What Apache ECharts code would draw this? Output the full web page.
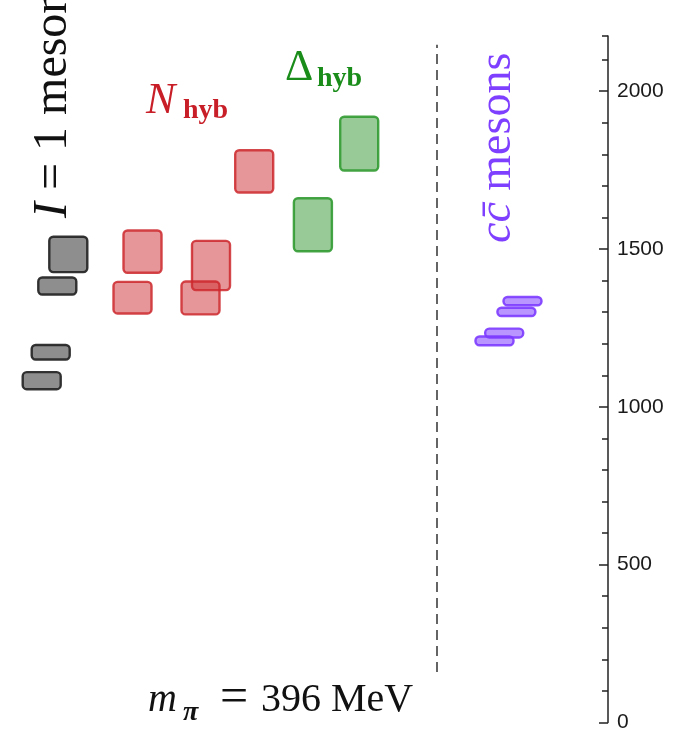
<!DOCTYPE html>
<html><head><meta charset="utf-8">
<script src="https://cdn.jsdelivr.net/npm/echarts@6/dist/echarts.min.js"></script>
<style>html,body{margin:0;padding:0;background:#fff}#c{width:683px;height:735px}</style>
</head><body><div id="c"></div>
<script>
// I = 1 mesons (gray boxes): horizontal column, mass (MeV), half-height uncertainty (MeV)
const isovectorPos  = [6.83, 5.73, 5.07, 4.17];
const isovectorMass = [1483, 1383, 1173, 1083];
const isovectorErr  = [56, 27, 23, 27];
// N_hyb (red boxes)
const nucleonPos  = [14.25, 13.25, 21.1, 20.05, 25.42];
const nucleonMass = [1492, 1346, 1448, 1345, 1746];
const nucleonErr  = [67, 50, 78, 52, 67];
// Delta_hyb (green boxes)
const deltaPos  = [35.92, 31.29];
const deltaMass = [1834, 1577];
const deltaErr  = [85, 84];
// c cbar mesons (purple boxes)
const charmPos  = [52.25, 51.64, 50.42, 49.45];
const charmMass = [1335, 1301, 1234, 1209];
const charmErr  = [13, 13, 14, 14];
// vertical dashed separator
const separatorPos = 43.7;
const separatorRange = [160, 2147];
// y-axis ticks and labels
const yMajorTicks = [0, 500, 1000, 1500, 2000];
const yMinorTicks = [0,100,200,300,400,500,600,700,800,900,1000,1100,1200,1300,1400,1500,1600,1700,1800,1900,2000,2100,2175];
const yMax = 2175;

const BOX_W = 3.8;
function boxSeries(name, pos, mass, err, fill, stroke) {
  return {
    name: name,
    type: 'custom',
    data: pos.map((p, i) => [p, mass[i] - err[i], mass[i] + err[i]]),
    encode: { x: 0, y: [1, 2] },
    renderItem: function (params, api) {
      const lo = api.coord([api.value(0), api.value(1)]);
      const hi = api.coord([api.value(0), api.value(2)]);
      const w = api.size([BOX_W, 0])[0];
      return {
        type: 'rect',
        shape: { x: lo[0] - w / 2, y: hi[1], width: w, height: lo[1] - hi[1], r: 4 },
        style: { fill: fill, stroke: stroke, lineWidth: 2.4 }
      };
    },
    silent: true
  };
}

const serif = "'Liberation Serif', 'DejaVu Serif', serif";
function txt(x, y, text, size, color, opts) {
  opts = opts || {};
  return {
    type: 'text', x: x, y: y, rotation: opts.rotation || 0, silent: true,
    style: {
      text: text, fill: color, fontSize: size, fontFamily: serif,
      fontStyle: opts.italic ? 'italic' : 'normal', fontWeight: opts.bold ? 'bold' : 'normal',
      align: 'left', textAlign: 'left', verticalAlign: 'middle', textVerticalAlign: 'middle',
      rich: opts.rich
    }
  };
}

const GRID_W = 608;
const chart = echarts.init(document.getElementById('c'), null, { renderer: 'canvas' });
chart.setOption({
  animation: false,
  backgroundColor: '#fff',
  grid: { left: 0, right: 683 - GRID_W, top: 36, bottom: 12.5 },
  xAxis: { type: 'value', min: 0, max: 60.8, show: false },
  yAxis: [
    {
      type: 'value', position: 'left', offset: -GRID_W, min: 0, max: yMax,
      axisLine: { show: true, lineStyle: { color: '#222', width: 1.5 } },
      axisTick: { show: true, inside: false, length: 6, customValues: yMinorTicks, lineStyle: { color: '#222', width: 1.5 } },
      axisLabel: { show: false },
      splitLine: { show: false }
    },
    {
      type: 'value', position: 'right', min: 0, max: yMax,
      axisLine: { show: false },
      axisTick: { show: true, inside: true, length: 9, customValues: yMajorTicks, lineStyle: { color: '#222', width: 1.5 } },
      axisLabel: { show: true, customValues: yMajorTicks, margin: 9, fontSize: 21, color: '#1a1a1a',
        fontFamily: "'Liberation Sans', Arial, sans-serif", formatter: v => String(v) },
      splitLine: { show: false }
    }
  ],
  series: [
    {
      type: 'line', symbol: 'none', silent: true,
      data: [[separatorPos, separatorRange[0]], [separatorPos, separatorRange[1]]],
      lineStyle: { color: '#111', width: 1.3, type: [10, 6] }
    },
    boxSeries('I=1', isovectorPos, isovectorMass, isovectorErr, 'rgba(60,60,60,0.58)', 'rgba(40,40,40,0.95)'),
    boxSeries('N', nucleonPos, nucleonMass, nucleonErr, 'rgba(205,45,50,0.5)', 'rgba(205,40,45,0.85)'),
    boxSeries('Delta', deltaPos, deltaMass, deltaErr, 'rgba(50,150,50,0.5)', 'rgba(50,155,50,0.9)'),
    boxSeries('cc', charmPos, charmMass, charmErr, 'rgba(127,63,255,0.55)', 'rgba(125,60,255,0.9)')
  ],
  graphic: [
    // m_pi = 396 MeV
    txt(148, 700.5, 'm', 40, '#111', { italic: true }),
    txt(183, 713, 'π', 28, '#111', { italic: true, bold: true }),
    txt(220, 699, '=', 50, '#111'),
    txt(261, 700.5, '396 MeV', 40, '#111'),
    // N_hyb
    txt(146, 101, 'N', 44, '#c81e28', { italic: true }),
    txt(183, 110.5, 'hyb', 28, '#c81e28', { bold: true }),
    // Delta_hyb
    txt(285, 68, 'Δ', 44, '#1a8c1a'),
    txt(317, 78.5, 'hyb', 28, '#1a8c1a', { bold: true }),
    // I = 1 mesons (vertical)
    txt(53, 218, '{i|I} = 1 mesons', 48, '#111', {
      rotation: Math.PI / 2,
      rich: { i: { fontStyle: 'italic', fontSize: 48, fontFamily: serif, fill: '#111' } }
    }),
    // c cbar mesons (vertical)
    txt(498, 243, '{i|cc\u0304} mesons', 46, '#7f3fff', {
      rotation: Math.PI / 2,
      rich: { i: { fontStyle: 'italic', fontSize: 46, fontFamily: serif, fill: '#7f3fff' } }
    })
  ]
});
</script>
</body></html>
